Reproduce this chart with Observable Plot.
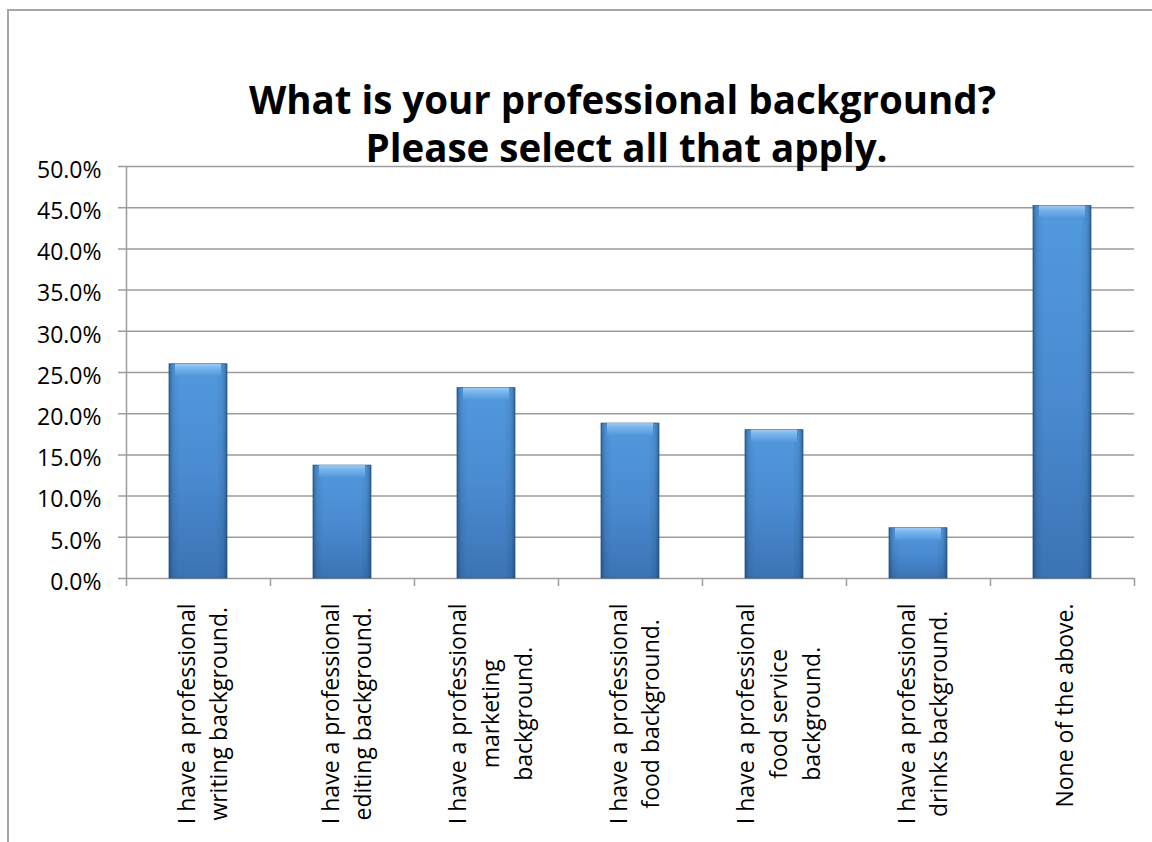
<!DOCTYPE html>
<html>
<head>
<meta charset="utf-8">
<script src="https://cdn.jsdelivr.net/npm/d3@7"></script>
<script src="https://cdn.jsdelivr.net/npm/@observablehq/plot@0.6"></script>
<style>
  html, body { margin: 0; padding: 0; background: #fff; width: 1152px; height: 842px; overflow: hidden; }
  #border { position: absolute; left: 7px; top: 9px; width: 1300px; height: 1000px; border: 2px solid #a6a6a6; box-sizing: border-box; }
  #chart { position: absolute; left: 0; top: 0; }
  #chart svg g[aria-label="bars base"] { filter: drop-shadow(2px 2px 2px rgba(0,0,0,0.35)); }
</style>
</head>
<body>
<div id="border"></div>
<div id="chart"></div>
<script>
// ---- data ----
const categories = [
  "I have a professional\nwriting background.",
  "I have a professional\nediting background.",
  "I have a professional\nmarketing\nbackground.",
  "I have a professional\nfood background.",
  "I have a professional\nfood service\nbackground.",
  "I have a professional\ndrinks background.",
  "None of the above."
];
const values = [0.260, 0.137, 0.231, 0.188, 0.180, 0.061, 0.452];
const yTicks = [0, 0.05, 0.10, 0.15, 0.20, 0.25, 0.30, 0.35, 0.40, 0.45, 0.50];
const titleLines = ["What is your professional background?", "Please select all that apply."];

const data = categories.map((c, i) => ({cat: c, value: values[i]}));

// ---- layout ----
const W = 1152, H = 842;
const mL = 126, mR = 18, mT = 166, mB = 264;
const plotW = W - mL - mR, plotH = H - mT - mB;
const step = plotW / categories.length;
const grid = "#9c9c9c";
const font = "Open Sans";
const axisFont = 23;

// measure longest line for label block placement
const ctx = document.createElement("canvas").getContext("2d");
ctx.font = `${axisFont}px "${font}"`;
const blockLen = s => Math.max(...s.split("\n").map(l => ctx.measureText(l).width));
const multi = categories.filter(c => c.includes("\n"));
const single = categories.filter(c => !c.includes("\n"));
const multiLen = Math.max(...multi.map(blockLen));

const chart = Plot.plot({
  width: W, height: H,
  marginLeft: mL, marginRight: mR, marginTop: mT, marginBottom: mB,
  style: {fontFamily: font, fontSize: axisFont + "px", color: "#000", background: "transparent"},
  x: {type: "band", domain: categories, paddingInner: 0.6, paddingOuter: 0.3, axis: null},
  y: {domain: [0, 0.5], axis: null},
  marks: [
    Plot.gridY(yTicks, {stroke: grid, strokeOpacity: 1, strokeWidth: 1.5, insetLeft: -8}),
    Plot.axisY({ticks: yTicks, tickSize: 0, tickPadding: 25, tickFormat: d3.format(".1%"), fontSize: axisFont, label: null, dy: 4, fill: "#000"}),
    // y axis line + first boundary tick
    Plot.ruleX([categories[0]], {x: d => d, dx: -step / 2, stroke: grid, strokeWidth: 1.5, insetBottom: -8}),
    // category boundary ticks
    Plot.ruleX(categories.slice(1), {x: d => d, dx: -step / 2, stroke: grid, strokeWidth: 1.5, insetTop: plotH, insetBottom: -8}),
    Plot.ruleX([categories[categories.length - 1]], {x: d => d, dx: step / 2, stroke: grid, strokeWidth: 1.5, insetTop: plotH, insetBottom: -8}),
    // bars
    Plot.barY(data, {x: "cat", y: "value", fill: "url(#barV)", stroke: "#2f5d92", strokeWidth: 0.8, ariaLabel: "bars base"}),
    Plot.barY(data, {x: "cat", y: "value", fill: "url(#barH)", ariaLabel: "bars edge"}),
    Plot.barY(data, {x: "cat", y1: "value", y2: "value", insetBottom: -12, insetLeft: 6, insetRight: 6, fill: "url(#bevel)", ariaLabel: "bars bevel"}),
    // x labels
    Plot.text(multi, {x: d => d, text: d => d, frameAnchor: "bottom", rotate: -90, textAnchor: "middle", lineAnchor: "middle", lineHeight: 1.43, dy: 25 + multiLen / 2, dx: 2, fontSize: axisFont, fill: "#000"}),
    Plot.text(single, {x: d => d, text: d => d, frameAnchor: "bottom", rotate: -90, textAnchor: "end", lineAnchor: "middle", dy: 25, dx: 3, fontSize: axisFont, fill: "#000"}),
    // title
    Plot.text([titleLines[0]], {text: d => d, frameAnchor: "top", lineAnchor: "bottom", dy: -53, dx: -8, fontSize: 38.5, fontWeight: "bold", fill: "#000"}),
    Plot.text([titleLines[1]], {text: d => d, frameAnchor: "top", lineAnchor: "bottom", dy: -5, dx: -4, fontSize: 38.5, fontWeight: "bold", fill: "#000"})
  ]
});

// gradient definitions for Excel-like bevelled bars
const svg = d3.select(chart);
const defs = svg.insert("defs", ":first-child");
const gV = defs.append("linearGradient").attr("id", "barV").attr("x1", 0).attr("y1", 0).attr("x2", 0).attr("y2", 1);
[[0, "#5299de"], [0.5, "#4a8bd1"], [1, "#3b74b4"]].forEach(([o, c]) => gV.append("stop").attr("offset", o).attr("stop-color", c));
const gH = defs.append("linearGradient").attr("id", "barH").attr("x1", 0).attr("y1", 0).attr("x2", 1).attr("y2", 0);
[[0, 0.45], [0.07, 0.12], [0.18, 0], [0.82, 0], [0.93, 0.12], [1, 0.45]].forEach(([o, a]) => gH.append("stop").attr("offset", o).attr("stop-color", "#10304f").attr("stop-opacity", a));
const gB = defs.append("linearGradient").attr("id", "bevel").attr("x1", 0).attr("y1", 0).attr("x2", 0).attr("y2", 1);
[[0, "#9ccaf2"], [0.4, "#75b3ec"], [1, "#5598dc"]].forEach(([o, c]) => gB.append("stop").attr("offset", o).attr("stop-color", c));

document.getElementById("chart").appendChild(chart);
</script>
</body>
</html>
